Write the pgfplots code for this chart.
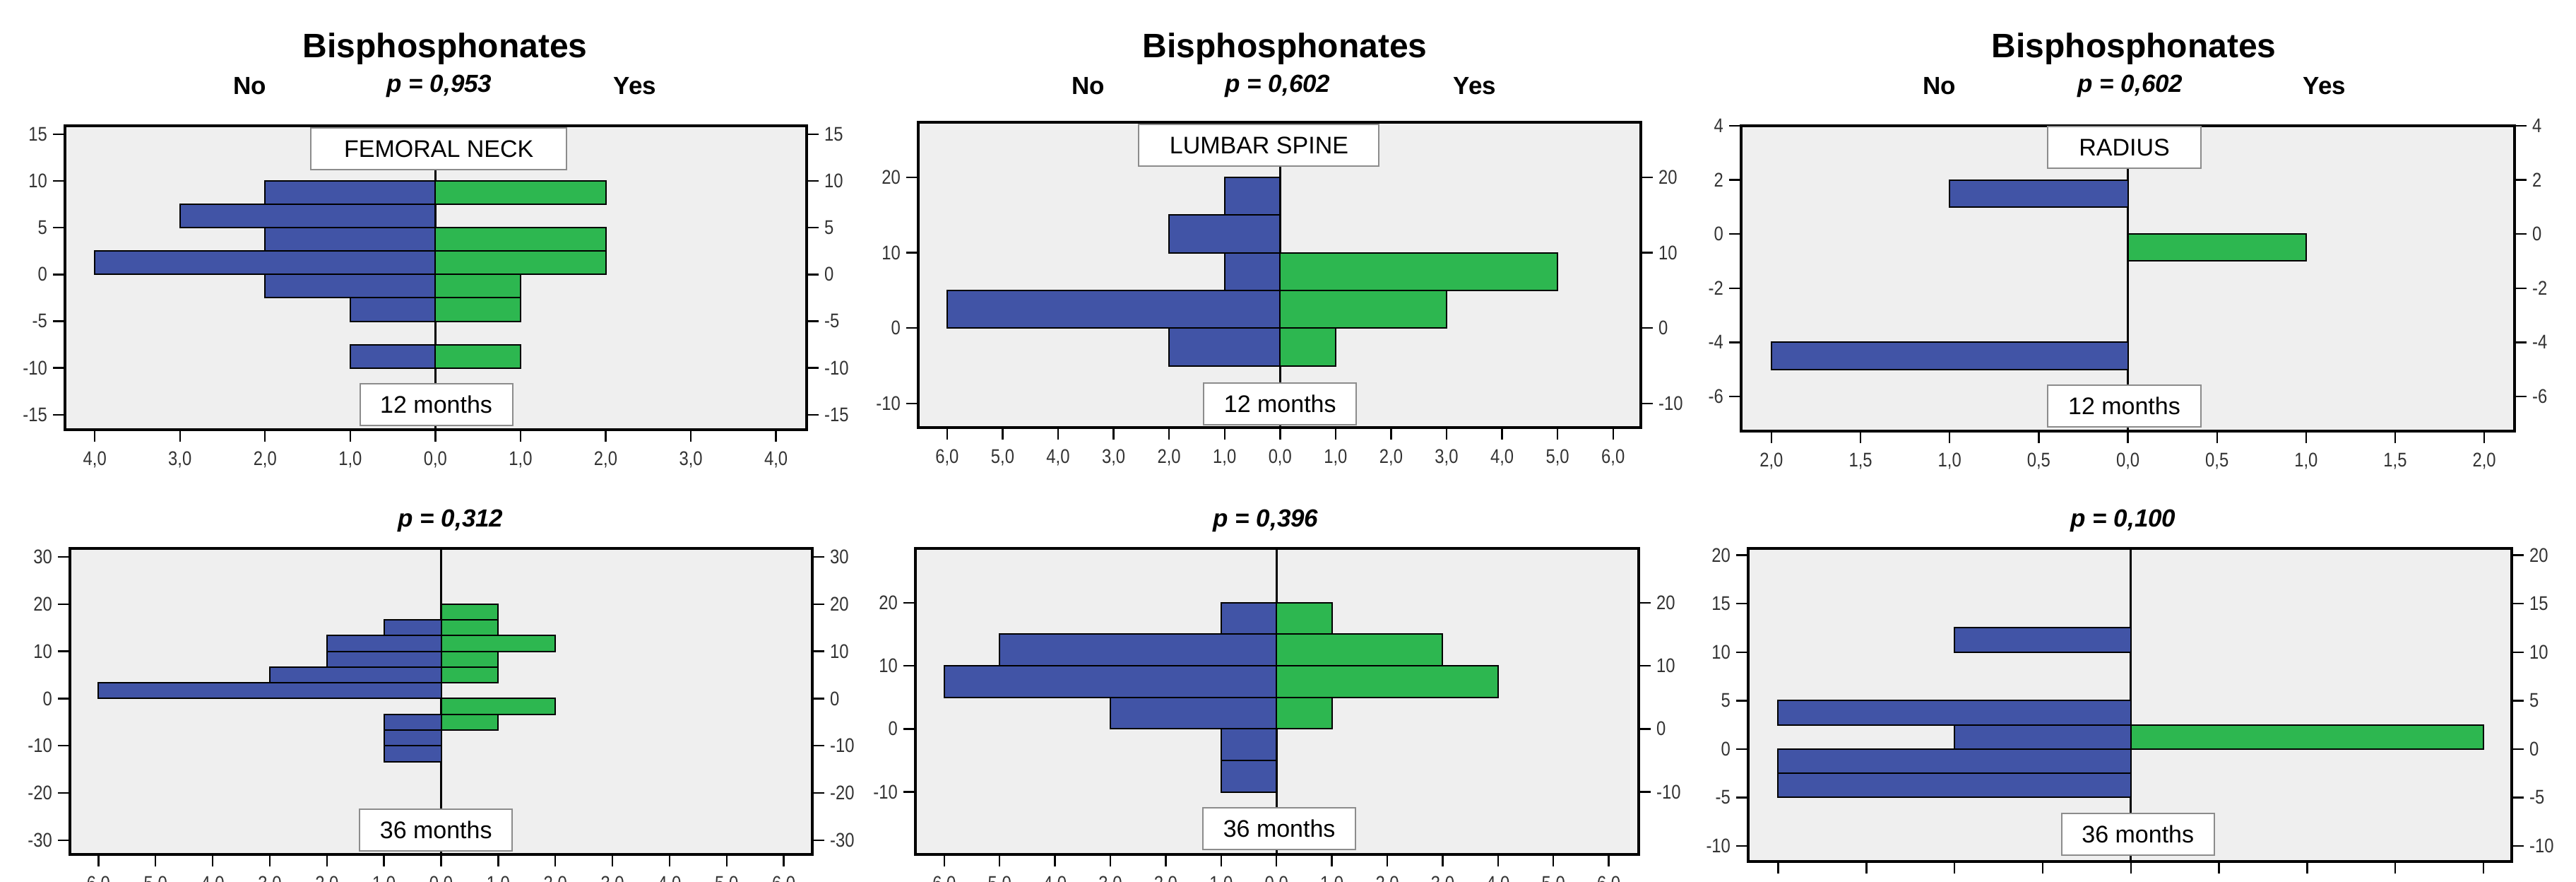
\documentclass[border=0pt]{standalone}
\usepackage{fontspec}
\setmainfont{Liberation Sans}
\newfontfamily\ticfont[FakeStretch=0.85]{Liberation Sans}
\usepackage{pgfplots}
\pgfplotsset{compat=1.18}
\definecolor{nob}{RGB}{65,84,166}
\definecolor{yesg}{RGB}{45,183,80}
\definecolor{bgc}{RGB}{239,239,239}
\pgfplotsset{
 pyr/.style={scale only axis, anchor=south west, axis background/.style={fill=bgc},
   axis line style={line width=0.8pt, black}, tick align=outside, xtick pos=bottom, ytick pos=left,
   major tick length=4.25pt, tick style={black, line width=0.6pt},
   ticklabel style={font=\ticfont\fontsize{7pt}{8pt}\selectfont, text=black!80},
   yticklabel style={xshift=1.5pt}},
 rax/.style={scale only axis, anchor=south west, hide x axis, axis line style={draw=none},
   tick align=outside, ytick pos=right, yticklabel pos=right,
   major tick length=4.25pt, tick style={black, line width=0.6pt},
   ticklabel style={font=\ticfont\fontsize{7pt}{8pt}\selectfont, text=black!80},
   yticklabel style={xshift=-1.5pt}},
 nobar/.style={xbar interval, fill=nob, draw=black, line width=0.5pt},
 yesbar/.style={xbar interval, fill=yesg, draw=black, line width=0.5pt},
 cline/.style={black, line width=0.8pt},
}
\tikzset{lbox/.style={draw=black!45, line width=0.5pt, fill=white, inner sep=0pt,
   minimum height=14.75pt, font=\fontsize{8.5pt}{10pt}\selectfont}}
\begin{document}
\begin{tikzpicture}
\path[use as bounding box] (0,0) rectangle (911.75pt,312pt);
% titles
\foreach \xx in {157.5,454.75,755.25}{\node[font=\fontsize{12pt}{14pt}\selectfont\bfseries] at (\xx pt,294.75pt) {Bisphosphonates};}
\foreach \xx in {88.5,385.25,686.5}{\node[font=\fontsize{8.75pt}{10pt}\selectfont\bfseries] at (\xx pt,281.5pt) {No};}
\foreach \xx in {224.75,522,822.75}{\node[font=\fontsize{8.75pt}{10pt}\selectfont\bfseries] at (\xx pt,281.5pt) {Yes};}
\node[font=\fontsize{8.75pt}{10pt}\selectfont\bfseries\itshape] at (155.5pt,281.5pt) {p = 0,953};
\node[font=\fontsize{8.75pt}{10pt}\selectfont\bfseries\itshape] at (452.25pt,281.5pt) {p = 0,602};
\node[font=\fontsize{8.75pt}{10pt}\selectfont\bfseries\itshape] at (754pt,281.5pt) {p = 0,602};
\node[font=\fontsize{8.75pt}{10pt}\selectfont\bfseries\itshape] at (159.5pt,127.75pt) {p = 0,312};
\node[font=\fontsize{8.75pt}{10pt}\selectfont\bfseries\itshape] at (448pt,127.75pt) {p = 0,396};
\node[font=\fontsize{8.75pt}{10pt}\selectfont\bfseries\itshape] at (751.5pt,127.75pt) {p = 0,100};

% ---------- Panel 1: Femoral neck, 12 months
\begin{axis}[pyr, at={(23pt,160pt)}, width=262.5pt, height=107.5pt,
  xmin=-4.35, xmax=4.36, ymin=-16.6, ymax=15.9,
  xtick={-4,...,4}, xticklabels={{4,0},{3,0},{2,0},{1,0},{0,0},{1,0},{2,0},{3,0},{4,0}},
  ytick={-15,-10,...,15}, yticklabels={-15,-10,-5,0,5,10,15}]
\addplot[cline] coordinates {(0,-16.6) (0,15.9)};
\addplot[nobar] coordinates {(-1,-10) (0,-7.5) (-1,-5) (-2,-2.5) (-4,0) (-2,2.5) (-3,5) (-2,7.5) (0,10)};
\addplot[yesbar] coordinates {(1,-10) (0,-7.5) (1,-5) (1,-2.5) (2,0) (2,2.5) (0,5) (2,7.5) (0,10)};
\node[lbox, minimum width=90.5pt, anchor=north, yshift=-0.5pt] at (axis cs:0.04,15.9) {FEMORAL NECK};
\node[lbox, minimum width=54pt, anchor=south, yshift=1.25pt] at (axis cs:0.01,-16.6) {12 months};
\end{axis}
\begin{axis}[rax, at={(23pt,160pt)}, width=262.5pt, height=107.5pt,
  xmin=-4.35, xmax=4.36, ymin=-16.6, ymax=15.9,
  ytick={-15,-10,...,15}, yticklabels={-15,-10,-5,0,5,10,15}]
\end{axis}

% ---------- Panel 2: Lumbar spine, 12 months
\begin{axis}[pyr, at={(325pt,160.75pt)}, width=255.75pt, height=108pt,
  xmin=-6.52, xmax=6.5, ymin=-13.2, ymax=27.3,
  xtick={-6,...,6}, xticklabels={{6,0},{5,0},{4,0},{3,0},{2,0},{1,0},{0,0},{1,0},{2,0},{3,0},{4,0},{5,0},{6,0}},
  ytick={-10,0,10,20}, yticklabels={-10,0,10,20}]
\addplot[cline] coordinates {(0,-13.2) (0,27.3)};
\addplot[nobar] coordinates {(-2,-5) (-6,0) (-1,5) (-2,10) (-1,15) (0,20)};
\addplot[yesbar] coordinates {(1,-5) (3,0) (5,5) (0,10)};
\node[lbox, minimum width=85pt, anchor=north, yshift=-0.5pt] at (axis cs:-0.38,27.3) {LUMBAR SPINE};
\node[lbox, minimum width=54pt, anchor=south, yshift=0.75pt] at (axis cs:0,-13.2) {12 months};
\end{axis}
\begin{axis}[rax, at={(325pt,160.75pt)}, width=255.75pt, height=108pt,
  xmin=-6.52, xmax=6.5, ymin=-13.2, ymax=27.3,
  ytick={-10,0,10,20}, yticklabels={-10,0,10,20}]
\end{axis}

% ---------- Panel 3: Radius, 12 months
\begin{axis}[pyr, at={(616.25pt,159.5pt)}, width=273.75pt, height=108pt,
  xmin=-2.17, xmax=2.17, ymin=-7.28, ymax=4,
  xtick={-2,-1.5,...,2}, xticklabels={{2,0},{1,5},{1,0},{0,5},{0,0},{0,5},{1,0},{1,5},{2,0}},
  ytick={-6,-4,...,4}, yticklabels={-6,-4,-2,0,2,4}]
\addplot[cline] coordinates {(0,-7.28) (0,4)};
\addplot[nobar] coordinates {(-2,-5) (0,-4) (0,-3) (0,-2) (0,-1) (0,0) (-1,1) (0,2)};
\addplot[yesbar] coordinates {(1,-1) (0,0)};
\node[lbox, minimum width=54.25pt, anchor=north] at (axis cs:-0.02,4) {RADIUS};
\node[lbox, minimum width=54.25pt, anchor=south, yshift=1.25pt] at (axis cs:-0.02,-7.28) {12 months};
\end{axis}
\begin{axis}[rax, at={(616.25pt,159.5pt)}, width=273.75pt, height=108pt,
  xmin=-2.17, xmax=2.17, ymin=-7.28, ymax=4,
  ytick={-6,-4,...,4}, yticklabels={-6,-4,-2,0,2,4}]
\end{axis}

% ---------- Panel 4: Femoral neck, 36 months
\begin{axis}[pyr, at={(24.75pt,9.75pt)}, width=262.75pt, height=108.25pt,
  xmin=-6.5, xmax=6.5, ymin=-33, ymax=31.8,
  xtick={-6,...,6}, xticklabels={{6,0},{5,0},{4,0},{3,0},{2,0},{1,0},{0,0},{1,0},{2,0},{3,0},{4,0},{5,0},{6,0}},
  ytick={-30,-20,...,30}, yticklabels={-30,-20,-10,0,10,20,30}]
\addplot[cline] coordinates {(0,-33) (0,31.8)};
\addplot[nobar] coordinates {(-1,-13.333) (-1,-10) (-1,-6.667) (0,-3.333) (-6,0) (-3,3.333) (-2,6.667) (-2,10) (-1,13.333) (0,16.667)};
\addplot[yesbar] coordinates {(1,-6.667) (2,-3.333) (0,0) (1,3.333) (1,6.667) (2,10) (1,13.333) (1,16.667) (0,20)};
\node[lbox, minimum width=54pt, anchor=south, yshift=1pt] at (axis cs:-0.09,-33) {36 months};
\end{axis}
\begin{axis}[rax, at={(24.75pt,9.75pt)}, width=262.75pt, height=108.25pt,
  xmin=-6.5, xmax=6.5, ymin=-33, ymax=31.8,
  ytick={-30,-20,...,30}, yticklabels={-30,-20,-10,0,10,20,30}]
\end{axis}

% ---------- Panel 5: Lumbar spine, 36 months
\begin{axis}[pyr, at={(324pt,9.75pt)}, width=256pt, height=108.25pt,
  xmin=-6.52, xmax=6.54, ymin=-19.9, ymax=28.6,
  xtick={-6,...,6}, xticklabels={{6,0},{5,0},{4,0},{3,0},{2,0},{1,0},{0,0},{1,0},{2,0},{3,0},{4,0},{5,0},{6,0}},
  ytick={-10,0,10,20}, yticklabels={-10,0,10,20}]
\addplot[cline] coordinates {(0,-19.9) (0,28.6)};
\addplot[nobar] coordinates {(-1,-10) (-1,-5) (-3,0) (-6,5) (-5,10) (-1,15) (0,20)};
\addplot[yesbar] coordinates {(1,0) (4,5) (3,10) (1,15) (0,20)};
\node[lbox, minimum width=54pt, anchor=south, yshift=1.5pt] at (axis cs:0.05,-19.9) {36 months};
\end{axis}
\begin{axis}[rax, at={(324pt,9.75pt)}, width=256pt, height=108.25pt,
  xmin=-6.52, xmax=6.54, ymin=-19.9, ymax=28.6,
  ytick={-10,0,10,20}, yticklabels={-10,0,10,20}]
\end{axis}

% ---------- Panel 6: Radius, 36 months
\begin{axis}[pyr, at={(618.75pt,7.25pt)}, width=270.25pt, height=110.75pt,
  xmin=-2.17, xmax=2.16, ymin=-11.6, ymax=20.7,
  xtick={-2,-1.5,...,2}, xticklabels={{2,0},{1,5},{1,0},{0,5},{0,0},{0,5},{1,0},{1,5},{2,0}},
  ytick={-10,-5,...,20}, yticklabels={-10,-5,0,5,10,15,20}]
\addplot[cline] coordinates {(0,-11.6) (0,20.7)};
\addplot[nobar] coordinates {(-2,-5) (-2,-2.5) (-1,0) (-2,2.5) (0,5) (0,7.5) (-1,10) (0,12.5)};
\addplot[yesbar] coordinates {(2,0) (0,2.5)};
\node[lbox, minimum width=54pt, anchor=south, yshift=2pt] at (axis cs:0.04,-11.6) {36 months};
\end{axis}
\begin{axis}[rax, at={(618.75pt,7.25pt)}, width=270.25pt, height=110.75pt,
  xmin=-2.17, xmax=2.16, ymin=-11.6, ymax=20.7,
  ytick={-10,-5,...,20}, yticklabels={-10,-5,0,5,10,15,20}]
\end{axis}
\end{tikzpicture}
\end{document}
